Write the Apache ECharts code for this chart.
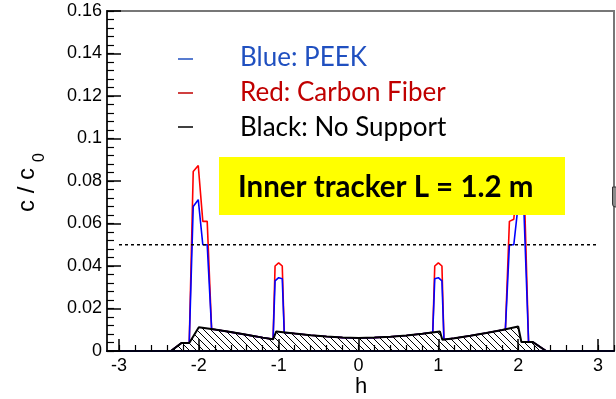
<!DOCTYPE html>
<html>
<head>
<meta charset="utf-8">
<script src="https://cdn.jsdelivr.net/npm/echarts@6/dist/echarts.min.js"></script>
<style>html,body{margin:0;padding:0;background:#fff}#c{width:616px;height:399px}</style>
</head>
<body>
<div id="c"></div>
<script>
// ---- data ----
const xTickLabels = [-3, -2, -1, 0, 1, 2, 3];
const yTickLabels = [0, 0.02, 0.04, 0.06, 0.08, 0.1, 0.12, 0.14, 0.16];
// No Support (black)
const hBlack = [-3.15, -2.35, -2.215, -2.12, -2.0, -1.8, -1.6, -1.4, -1.2, -1.07, -1.03, -0.8, -0.6, -0.4, -0.2, 0, 0.2, 0.4, 0.6, 0.8, 1.02, 1.05, 1.2, 1.4, 1.6, 1.8, 2.0, 2.04, 2.185, 2.35, 3.2];
const cBlack = [0, 0, 0.0038, 0.0038, 0.0112, 0.0101, 0.0089, 0.0076, 0.0063, 0.0055, 0.0092, 0.0082, 0.0074, 0.0068, 0.0063, 0.0061, 0.0063, 0.0067, 0.0073, 0.0081, 0.0092, 0.0053, 0.0060, 0.0072, 0.0085, 0.0099, 0.0115, 0.0042, 0.0042, 0, 0];
// PEEK (blue) and Carbon Fiber (red) share h positions
const hSupport = [-3.15, -2.35, -2.215, -2.12, -2.07, -2.007, -1.95, -1.895, -1.84, -1.8, -1.6, -1.4, -1.2, -1.07, -1.045, -1.0, -0.955, -0.93, -0.8, -0.6, -0.4, -0.2, 0, 0.2, 0.4, 0.6, 0.8, 0.93, 0.955, 1.0, 1.045, 1.07, 1.2, 1.4, 1.6, 1.8, 1.84, 1.89, 1.945, 2.007, 2.07, 2.13, 2.185, 2.35, 3.2];
const cPeek = [0, 0, 0.0038, 0.0038, 0.068, 0.0712, 0.050, 0.050, 0.0103, 0.0101, 0.0089, 0.0076, 0.0063, 0.0055, 0.033, 0.0345, 0.034, 0.0086, 0.0082, 0.0074, 0.0068, 0.0063, 0.0061, 0.0063, 0.0067, 0.0073, 0.0081, 0.0088, 0.034, 0.0345, 0.033, 0.0054, 0.0060, 0.0072, 0.0085, 0.0099, 0.0102, 0.050, 0.050, 0.0712, 0.068, 0.0042, 0.0042, 0, 0];
const cCarbon = [0, 0, 0.0038, 0.0038, 0.0845, 0.0873, 0.061, 0.061, 0.0103, 0.0101, 0.0089, 0.0076, 0.0063, 0.0055, 0.040, 0.0415, 0.040, 0.0086, 0.0082, 0.0074, 0.0068, 0.0063, 0.0061, 0.0063, 0.0067, 0.0073, 0.0081, 0.0088, 0.040, 0.0415, 0.040, 0.0054, 0.0060, 0.0072, 0.0085, 0.0099, 0.0102, 0.061, 0.062, 0.0873, 0.0845, 0.0042, 0.0042, 0, 0];
// reference level
const refH = [-3, 3];
const refC = 0.05;
const legendLabels = ['Blue: PEEK', 'Red: Carbon Fiber', 'Black: No Support'];
const boxLabel = 'Inner tracker L = 1.2 m';

// ---- chart ----
const zip = (xs, ys) => xs.map((x, i) => [x, ys[i]]);
const minorX = [];
for (let v = -3; v <= 3.2001; v += 0.2) minorX.push(Math.round(v * 10) / 10);
const minorY = [];
for (let v = 0; v <= 0.16001; v += 0.004) minorY.push(Math.round(v * 1000) / 1000);

const hatch = document.createElement('canvas');
hatch.width = 7; hatch.height = 7;
const g = hatch.getContext('2d');
g.strokeStyle = '#000'; g.lineWidth = 1;
for (const x0 of [-7, 0, 7]) { g.beginPath(); g.moveTo(x0, 0); g.lineTo(x0 + 7, 7); g.stroke(); }

const chart = echarts.init(document.getElementById('c'), null, { renderer: 'canvas' });
const baseFont = 'Liberation Sans';
const GL = 107, GR = 2, GT = 11, GB = 48;
chart.setOption({
  animation: false,
  grid: { left: GL, right: GR, top: GT, bottom: GB, show: true, borderColor: '#777', borderWidth: 2, backgroundColor: 'transparent' },
  xAxis: [
    { type: 'value', min: -3.15, max: 3.2, z: 10,
      axisLine: { show: true, onZero: false, lineStyle: { color: '#000018', width: 2 } },
      axisTick: { show: true, inside: true, length: 12, customValues: xTickLabels, lineStyle: { color: '#000', width: 1.5 } },
      axisLabel: { show: true, customValues: xTickLabels, formatter: v => String(v), fontFamily: baseFont, fontSize: 18, color: '#000', margin: 6 },
      splitLine: { show: false } },
    { type: 'value', min: -3.15, max: 3.2, position: 'bottom', z: 10, gridIndex: 0,
      axisLine: { show: false, onZero: false },
      axisTick: { show: true, inside: true, length: 6, customValues: minorX, lineStyle: { color: '#000', width: 1.2 } },
      axisLabel: { show: false }, splitLine: { show: false } }
  ],
  yAxis: [
    { type: 'value', min: 0, max: 0.16, z: 10,
      axisLine: { show: true, onZero: false, lineStyle: { color: '#222', width: 2 } },
      axisTick: { show: true, inside: true, length: 14, customValues: yTickLabels, lineStyle: { color: '#000', width: 1.5 } },
      axisLabel: { show: true, customValues: yTickLabels, formatter: v => String(v), fontFamily: baseFont, fontSize: 18, color: '#000', margin: 5 },
      splitLine: { show: false } },
    { type: 'value', min: 0, max: 0.16, position: 'left', z: 10,
      axisLine: { show: false, onZero: false },
      axisTick: { show: true, inside: true, length: 7, customValues: minorY, lineStyle: { color: '#000', width: 1.2 } },
      axisLabel: { show: false }, splitLine: { show: false } }
  ],
  series: [
    { type: 'line', name: 'Carbon Fiber', data: zip(hSupport, cCarbon), showSymbol: false, z: 3,
      lineStyle: { color: '#ff0000', width: 1.6 } },
    { type: 'line', name: 'PEEK', data: zip(hSupport, cPeek), showSymbol: false, z: 4,
      lineStyle: { color: '#0000ff', width: 1.6 } },
    { type: 'line', name: 'No Support', data: zip(hBlack, cBlack), showSymbol: false, z: 5,
      lineStyle: { color: '#000', width: 2 },
      areaStyle: { color: { image: hatch, repeat: 'repeat' }, opacity: 1 } },
    { type: 'line', name: 'ref', data: refH.map(h => [h, refC]), showSymbol: false, z: 6,
      lineStyle: { color: '#000', width: 1.3, type: [3, 3] } }
  ],
  graphic: [
    // y-axis title c / c_0
    { type: 'text', x: 39, y: 190, rotation: Math.PI / 2, z: 20,
      style: { text: 'c / c', font: '24px "Liberation Sans"', fill: '#000', textAlign: 'center', textVerticalAlign: 'bottom' } },
    { type: 'text', x: 48, y: 157.5, rotation: Math.PI / 2, z: 20,
      style: { text: '0', font: '16px "Liberation Sans"', fill: '#000', textAlign: 'center', textVerticalAlign: 'bottom' } },
    // x-axis title
    { type: 'text', x: 361, y: 398, z: 20,
      style: { text: 'h', font: '22px "Liberation Sans"', fill: '#000', textAlign: 'center', textVerticalAlign: 'bottom' } },
    // legend dashes
    { type: 'line', z: 20, shape: { x1: 178, y1: 59, x2: 193, y2: 59 }, style: { stroke: '#2050c0', lineWidth: 1.5 } },
    { type: 'line', z: 20, shape: { x1: 178, y1: 93, x2: 193, y2: 93 }, style: { stroke: '#c00000', lineWidth: 1.5 } },
    { type: 'line', z: 20, shape: { x1: 178, y1: 127, x2: 193, y2: 127 }, style: { stroke: '#000', lineWidth: 1.5 } },
    // legend texts
    { type: 'text', x: 240, y: 58, z: 20, style: { text: legendLabels[0], font: '26px Lato', fill: '#2050c0', textVerticalAlign: 'middle' } },
    { type: 'text', x: 240, y: 93, z: 20, style: { text: legendLabels[1], font: '26px Lato', fill: '#c00000', textVerticalAlign: 'middle' } },
    { type: 'text', x: 240, y: 128, z: 20, style: { text: legendLabels[2], font: '26px Lato', fill: '#000', textVerticalAlign: 'middle' } },
    // yellow box
    { type: 'rect', z: 30, shape: { x: 219, y: 157, width: 346, height: 58 }, style: { fill: '#ffff00' } },
    { type: 'text', x: 238, y: 187, z: 31, style: { text: boxLabel, font: 'bold 29.5px Lato', fill: '#000', textVerticalAlign: 'middle' } },
    // small gray marker at right edge
    { type: 'rect', z: 30, shape: { x: 612.5, y: 187, width: 6, height: 20, r: [0, 0, 0, 3] }, style: { fill: '#8a8a8a', stroke: '#333', lineWidth: 1 } }
  ]
});
</script>
</body>
</html>
